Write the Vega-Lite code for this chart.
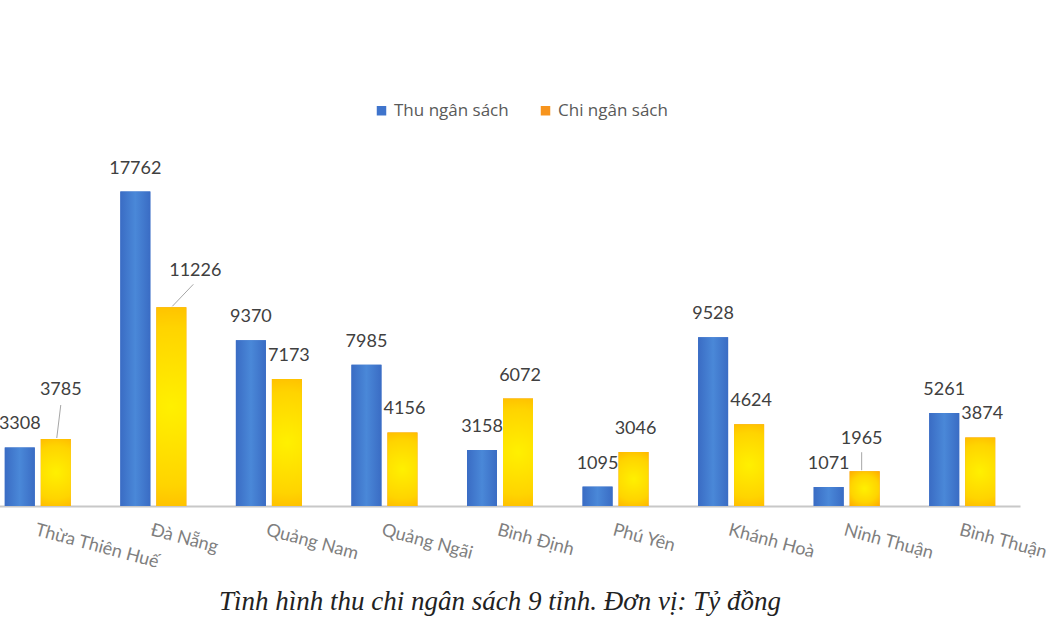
{
  "$schema": "https://vega.github.io/schema/vega-lite/v6.json",
  "width": 1040,
  "height": 354,
  "autosize": {"type": "none"},
  "padding": {"top": 152, "left": -20, "bottom": 124, "right": 30},
  "background": "#ffffff",
  "datasets": {
    "budget": [
      {"name": "Thừa Thiên Huế", "series": "Thu ngân sách", "value": 3308},
      {"name": "Thừa Thiên Huế", "series": "Chi ngân sách", "value": 3785},
      {"name": "Đà Nẵng", "series": "Thu ngân sách", "value": 17762},
      {"name": "Đà Nẵng", "series": "Chi ngân sách", "value": 11226},
      {"name": "Quảng Nam", "series": "Thu ngân sách", "value": 9370},
      {"name": "Quảng Nam", "series": "Chi ngân sách", "value": 7173},
      {"name": "Quảng Ngãi", "series": "Thu ngân sách", "value": 7985},
      {"name": "Quảng Ngãi", "series": "Chi ngân sách", "value": 4156},
      {"name": "Bình Định", "series": "Thu ngân sách", "value": 3158},
      {"name": "Bình Định", "series": "Chi ngân sách", "value": 6072},
      {"name": "Phú Yên", "series": "Thu ngân sách", "value": 1095},
      {"name": "Phú Yên", "series": "Chi ngân sách", "value": 3046},
      {"name": "Khánh Hoà", "series": "Thu ngân sách", "value": 9528},
      {"name": "Khánh Hoà", "series": "Chi ngân sách", "value": 4624},
      {"name": "Ninh Thuận", "series": "Thu ngân sách", "value": 1071},
      {"name": "Ninh Thuận", "series": "Chi ngân sách", "value": 1965},
      {"name": "Bình Thuận", "series": "Thu ngân sách", "value": 5261},
      {"name": "Bình Thuận", "series": "Chi ngân sách", "value": 3874}
    ]
  },
  "data": {"name": "budget"},
  "title": {
    "text": "Tình hình thu chi ngân sách 9 tỉnh. Đơn vị: Tỷ đồng",
    "orient": "bottom",
    "anchor": "middle",
    "offset": 18,
    "font": "Liberation Serif",
    "fontStyle": "italic",
    "fontWeight": "normal",
    "fontSize": 27,
    "color": "#222222"
  },
  "config": {
    "view": {"stroke": null},
    "font": "Lato"
  },
  "encoding": {
    "x": {
      "field": "name",
      "type": "nominal",
      "sort": null,
      "scale": {"paddingInner": 0, "paddingOuter": 0},
      "axis": {
        "title": null,
        "labelAngle": 15,
        "labelAlign": "left",
        "labelBaseline": "top",
        "labelPadding": 15,
        "labelFont": "Lato",
        "labelFontSize": 18,
        "labelColor": "#7f7f7f",
        "ticks": false,
        "domainColor": "#c8c8c8",
        "domainWidth": 2,
        "labelOverlap": false
      }
    },
    "y": {
      "field": "value",
      "type": "quantitative",
      "scale": {"domain": [0, 20000], "nice": false},
      "axis": null
    }
  },
  "layer": [
    {
      "transform": [{"filter": "datum.series === 'Thu ngân sách'"}],
      "mark": {"type": "bar", "width": 30, "xOffset": -18},
      "encoding": {
        "color": {
          "field": "series",
          "type": "nominal",
          "scale": {"domain": ["Thu ngân sách", "Chi ngân sách"], "range": ["#3F74CC", "#F7941D"]},
          "legend": {
            "title": null,
            "orient": "none",
            "direction": "horizontal",
            "legendX": 393,
            "legendY": -50,
            "symbolType": "square",
            "symbolSize": 90,
            "symbolOpacity": 1,
            "labelFont": "Open Sans",
            "labelFontSize": 17,
            "labelColor": "#595959",
            "columnPadding": 28,
            "labelOffset": 4
          }
        }
      }
    },
    {
      "transform": [{"filter": "datum.series === 'Chi ngân sách'"}],
      "mark": {"type": "bar", "width": 30, "xOffset": 18},
      "encoding": {
        "color": {"field": "series", "type": "nominal"}
      }
    },
    {
      "transform": [{"filter": "datum.series === 'Thu ngân sách'"}],
      "mark": {
        "type": "bar", "width": 30, "xOffset": -18,
        "fill": {"gradient": "linear", "x1": 0, "y1": 0, "x2": 1, "y2": 0,
          "stops": [{"offset": 0, "color": "#3A6CC4"}, {"offset": 0.5, "color": "#4A88D8"}, {"offset": 1, "color": "#3A6CC4"}]}
      }
    },
    {
      "transform": [{"filter": "datum.series === 'Chi ngân sách'"}],
      "mark": {
        "type": "bar", "width": 30, "xOffset": 18,
        "fill": {"gradient": "radial", "x1": 0.5, "y1": 0.5, "r1": 0, "x2": 0.5, "y2": 0.5, "r2": 0.72,
          "stops": [{"offset": 0, "color": "#FFF000"}, {"offset": 0.55, "color": "#FFD400"}, {"offset": 1, "color": "#FFA000"}]}
      }
    },
    {
      "transform": [{"filter": "datum.series === 'Thu ngân sách'"}],
      "mark": {"type": "text", "dx": -18, "dy": -23, "baseline": "middle", "font": "Lato", "fontSize": 18, "color": "#404040"},
      "encoding": {"text": {"field": "value", "type": "quantitative", "format": "d"}}
    },
    {
      "transform": [{"filter": "datum.series === 'Chi ngân sách' && datum.name !== 'Thừa Thiên Huế' && datum.name !== 'Đà Nẵng' && datum.name !== 'Ninh Thuận'"}],
      "mark": {"type": "text", "dx": 20, "dy": -23, "baseline": "middle", "font": "Lato", "fontSize": 18, "color": "#404040"},
      "encoding": {"text": {"field": "value", "type": "quantitative", "format": "d"}}
    },
    {
      "transform": [{"filter": "datum.series === 'Chi ngân sách' && datum.name === 'Thừa Thiên Huế'"}],
      "mark": {"type": "text", "dx": 23, "dy": -49, "baseline": "middle", "font": "Lato", "fontSize": 18, "color": "#404040"},
      "encoding": {"text": {"field": "value", "type": "quantitative", "format": "d"}}
    },
    {
      "transform": [{"filter": "datum.series === 'Chi ngân sách' && datum.name === 'Đà Nẵng'"}],
      "mark": {"type": "text", "dx": 42, "dy": -36, "baseline": "middle", "font": "Lato", "fontSize": 18, "color": "#404040"},
      "encoding": {"text": {"field": "value", "type": "quantitative", "format": "d"}}
    },
    {
      "transform": [{"filter": "datum.series === 'Chi ngân sách' && datum.name === 'Ninh Thuận'"}],
      "mark": {"type": "text", "dx": 15, "dy": -32, "baseline": "middle", "font": "Lato", "fontSize": 18, "color": "#404040"},
      "encoding": {"text": {"field": "value", "type": "quantitative", "format": "d"}}
    },
    {
      "transform": [{"filter": "datum.series === 'Chi ngân sách' && datum.name === 'Thừa Thiên Huế'"}],
      "mark": {"type": "rule", "color": "#a6a6a6", "strokeWidth": 1, "xOffset": 19, "x2Offset": 23, "yOffset": -1, "y2Offset": -34},
      "encoding": {
        "x": {"field": "name", "type": "nominal", "sort": null, "bandPosition": 0.5},
        "x2": {"field": "name", "bandPosition": 0.5},
        "y2": {"field": "value"}
      }
    },
    {
      "transform": [{"filter": "datum.series === 'Chi ngân sách' && datum.name === 'Đà Nẵng'"}],
      "mark": {"type": "rule", "color": "#a6a6a6", "strokeWidth": 1, "xOffset": 19, "x2Offset": 40, "yOffset": -1, "y2Offset": -23},
      "encoding": {
        "x": {"field": "name", "type": "nominal", "sort": null, "bandPosition": 0.5},
        "x2": {"field": "name", "bandPosition": 0.5},
        "y2": {"field": "value"}
      }
    },
    {
      "transform": [{"filter": "datum.series === 'Chi ngân sách' && datum.name === 'Ninh Thuận'"}],
      "mark": {"type": "rule", "color": "#a6a6a6", "strokeWidth": 1, "xOffset": 15, "x2Offset": 15, "yOffset": -1, "y2Offset": -19},
      "encoding": {
        "x": {"field": "name", "type": "nominal", "sort": null, "bandPosition": 0.5},
        "x2": {"field": "name", "bandPosition": 0.5},
        "y2": {"field": "value"}
      }
    }
  ]
}
